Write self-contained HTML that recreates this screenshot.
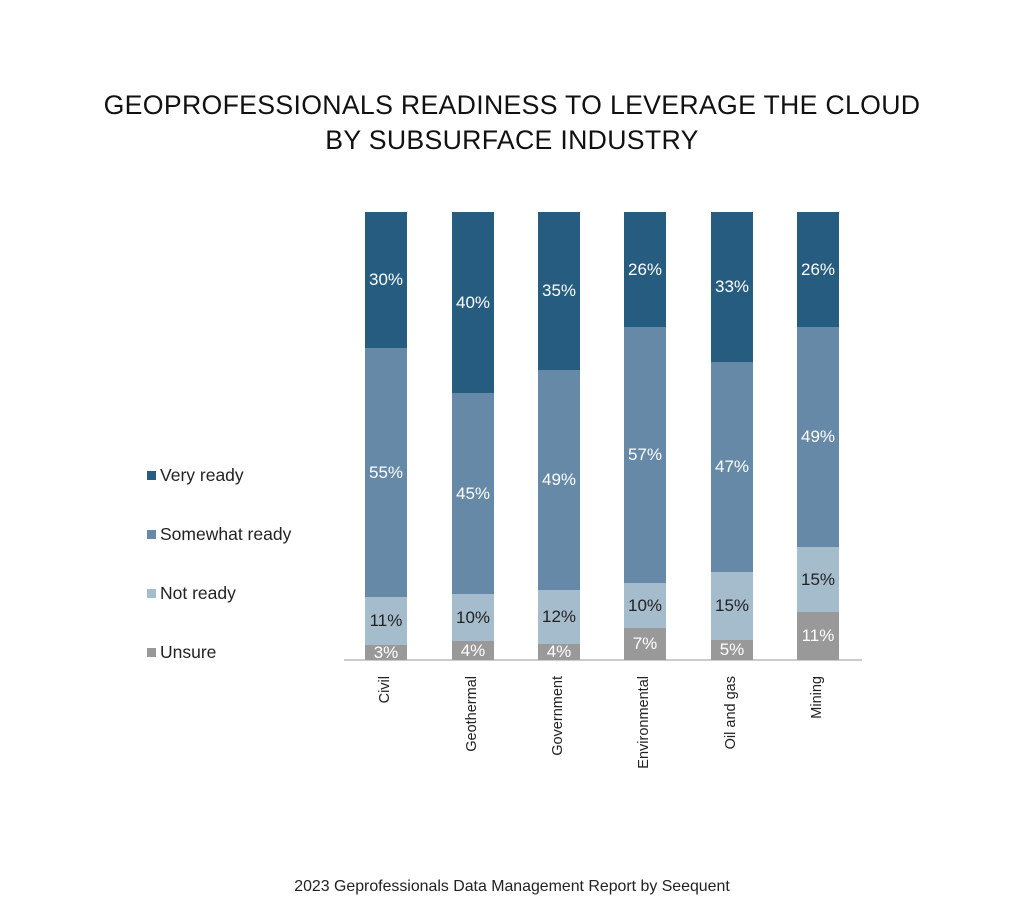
<!DOCTYPE html>
<html><head><meta charset="utf-8"><style>
body{margin:0;width:1024px;height:919px;background:#fff;position:relative;font-family:"Liberation Sans",sans-serif;overflow:hidden}
.t{position:absolute;left:0;width:1024px;text-align:center;font-size:26.7px;color:#111;letter-spacing:0.3px}
.s{position:absolute;width:42px}
.l{position:absolute;width:42px;text-align:center;font-size:17px;line-height:18px;margin-top:-9px}
.lg{position:absolute;left:147px;font-size:17.5px;color:#222}
.lg i{display:inline-block;width:9px;height:9px;margin-right:4px;vertical-align:1px}
.x{position:absolute;font-size:14.5px;color:#222;transform-origin:0 0;transform:rotate(-90deg);white-space:nowrap;width:120px;text-align:right}
</style></head><body>
<div class="t" style="top:90px">GEOPROFESSIONALS READINESS TO LEVERAGE THE CLOUD</div>
<div class="t" style="top:125px">BY SUBSURFACE INDUSTRY</div>
<div class="lg" style="top:465px"><i style="background:#255c80"></i>Very ready</div>
<div class="lg" style="top:524px"><i style="background:#6589a6"></i>Somewhat ready</div>
<div class="lg" style="top:583px"><i style="background:#a5bccd"></i>Not ready</div>
<div class="lg" style="top:642px"><i style="background:#999"></i>Unsure</div>
<div style="position:absolute;left:344px;top:659px;width:518px;height:2px;background:#ccc"></div>
<div id="c"></div>
<script>
var d=[["Civil",365,[645,597,348],["3%","11%","55%","30%"]],
["Geothermal",452,[641,594,393],["4%","10%","45%","40%"]],
["Government",538,[644,590,370],["4%","12%","49%","35%"]],
["Environmental",624,[628,583,327],["7%","10%","57%","26%"]],
["Oil and gas",711,[640,572,362],["5%","15%","47%","33%"]],
["Mining",797,[612,547,327],["11%","15%","49%","26%"]]];
var cols=["#999","#a5bccd","#6589a6","#255c80"],tc=["#fff","#222","#fff","#fff"],h="";
d.forEach(function(b){var y=[660,b[2][0],b[2][1],b[2][2],212];
for(var i=0;i<4;i++){h+='<div class="s" style="left:'+b[1]+'px;top:'+y[i+1]+'px;height:'+(y[i]-y[i+1])+'px;background:'+cols[i]+'"></div>';
h+='<div class="l" style="left:'+b[1]+'px;top:'+((y[i]+y[i+1])/2)+'px;color:'+tc[i]+'">'+b[3][i]+'</div>';}
h+='<div class="x" style="left:'+(b[1]+12)+'px;top:'+(676+120)+'px">'+b[0]+'</div>';});
document.getElementById("c").innerHTML=h;
</script>
<div style="position:absolute;top:878px;left:0;width:1024px;text-align:center;font-size:15.9px;color:#222">2023 Geprofessionals Data Management Report by Seequent</div>
</body></html>
